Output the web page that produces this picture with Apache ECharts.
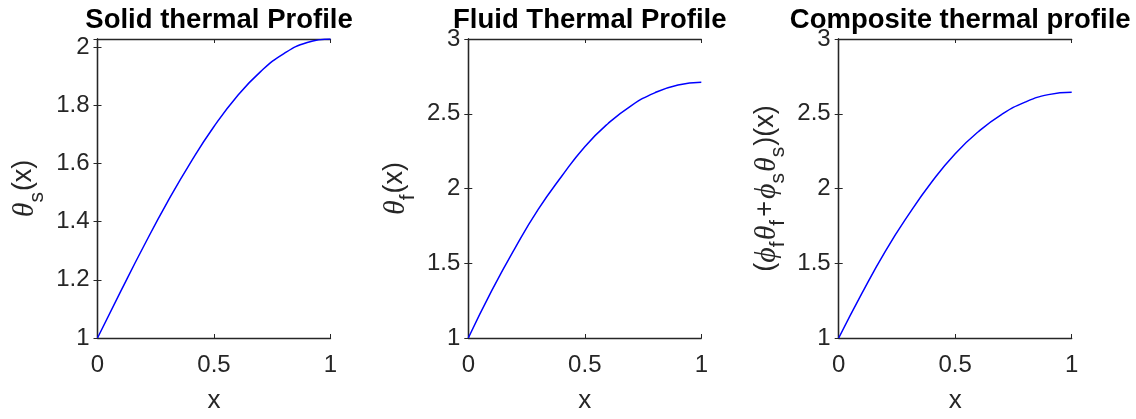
<!DOCTYPE html>
<html>
<head>
<meta charset="utf-8">
<script src="https://cdn.jsdelivr.net/npm/echarts@6/dist/echarts.min.js"></script>
<style>
  html, body { margin: 0; padding: 0; background: #fff; }
  #chart { width: 1136px; height: 419px; }
</style>
</head>
<body>
<div id="chart"></div>
<script>
// sample points along x
var xs = [0, 0.1, 0.2, 0.3, 0.4, 0.5, 0.6, 0.7, 0.8, 0.9, 1];
var solidVals = [1, 1.161, 1.318, 1.467, 1.604, 1.727, 1.832, 1.916, 1.978, 2.016, 2.028];
var fluidVals = [1, 1.315, 1.60, 1.86, 2.08, 2.28, 2.435, 2.555, 2.64, 2.693, 2.71];
var compositeVals = [1, 1.30, 1.58, 1.825, 2.045, 2.233, 2.381, 2.496, 2.578, 2.628, 2.644];

var titles = ['Solid thermal Profile', 'Fluid Thermal Profile', 'Composite thermal profile'];
var yNames = [
  '{g|θ}{sub|s}{n|(x)}',
  '{g|θ}{sub|f}{n|(x)}',
  '{n|(}{g|ϕ}{sub|f}{g|θ}{sub|f}{p|+}{g|ϕ}{sub|s}{g|θ}{sub|s}{n|)(x)}'
];
var xTicks = [0, 0.5, 1];
var yRanges = [[1, 2.028, 0.2], [1, 3, 0.5], [1, 3, 0.5]];

var chart = echarts.init(document.getElementById('chart'));

var ink = '#262626';
var lefts = [97.5, 468.3, 838.7];
var gridW = 233, gridTop = 39, gridH = 301.7;

var grids = [], xAxes = [], yAxes = [], series = [], titleList = [];

function pairs(vals) {
  return xs.map(function (x, i) { return [x, vals[i]]; });
}
var allVals = [solidVals, fluidVals, compositeVals];

var richName = {
  n: { fontSize: 27, fontFamily: 'Liberation Sans', color: ink, verticalAlign: 'top' },
  p: { fontSize: 27, fontFamily: 'Liberation Sans', color: ink, verticalAlign: 'top', padding: [0, 2, 0, 2] },
  g: { fontSize: 30, fontFamily: 'Liberation Serif', fontStyle: 'italic', color: ink, verticalAlign: 'top' },
  sub: { fontSize: 21, fontFamily: 'Liberation Sans', color: ink, verticalAlign: 'top', padding: [16, 1, 0, 0] }
};

for (var i = 0; i < 3; i++) {
  grids.push({ left: lefts[i], top: gridTop, width: gridW, height: gridH });
  titleList.push({
    text: titles[i],
    left: lefts[i] + gridW / 2,
    top: 1,
    textAlign: 'center',
    textStyle: { fontFamily: 'Liberation Sans', fontWeight: 'bold', fontSize: 27.5, color: '#000' }
  });

  var yr = yRanges[i];
  var axisLine = { show: true, lineStyle: { color: ink, width: 1.3 } };
  var tick = { show: true, inside: true, length: 4, lineStyle: { color: ink, width: 1 } };

  xAxes.push({
    type: 'value', gridIndex: i, position: 'bottom',
    min: xTicks[0], max: xTicks[xTicks.length - 1], interval: 0.5,
    axisLine: axisLine, axisTick: tick, splitLine: { show: false },
    axisLabel: { color: ink, fontSize: 24, fontFamily: 'Liberation Sans', margin: 15 },
    name: 'x', nameLocation: 'middle', nameGap: 50,
    nameTextStyle: { color: ink, fontSize: 26, fontFamily: 'Liberation Sans' }
  });
  xAxes.push({
    type: 'value', gridIndex: i, position: 'top',
    min: xTicks[0], max: xTicks[xTicks.length - 1], interval: 0.5,
    axisLine: axisLine, axisTick: tick, axisLabel: { show: false }, splitLine: { show: false }
  });

  (function (step) {
    yAxes.push({
      type: 'value', gridIndex: i, position: 'left',
      min: yr[0], max: yr[1], interval: step,
      axisLine: axisLine, axisTick: tick, splitLine: { show: false },
      axisLabel: {
        color: ink, fontSize: 24, fontFamily: 'Liberation Sans', margin: 8,
        formatter: function (v) {
          var k = (v - 1) / step;
          return Math.abs(k - Math.round(k)) < 1e-6 ? String(Math.round(v * 10) / 10) : '';
        }
      },
      name: yNames[i], nameLocation: 'middle', nameGap: 50,
      nameTextStyle: { rich: richName }
    });
  })(yr[2]);
  yAxes.push({
    type: 'value', gridIndex: i, position: 'right',
    min: yr[0], max: yr[1], interval: yr[2],
    axisLine: axisLine, axisTick: tick, axisLabel: { show: false }, splitLine: { show: false }
  });

  series.push({
    type: 'line', xAxisIndex: i * 2, yAxisIndex: i * 2,
    data: pairs(allVals[i]), smooth: true, showSymbol: false,
    lineStyle: { color: '#0000ff', width: 1.5 }, animation: false
  });
}

chart.setOption({
  animation: false,
  title: titleList,
  grid: grids,
  xAxis: xAxes,
  yAxis: yAxes,
  series: series
});
</script>
</body>
</html>
